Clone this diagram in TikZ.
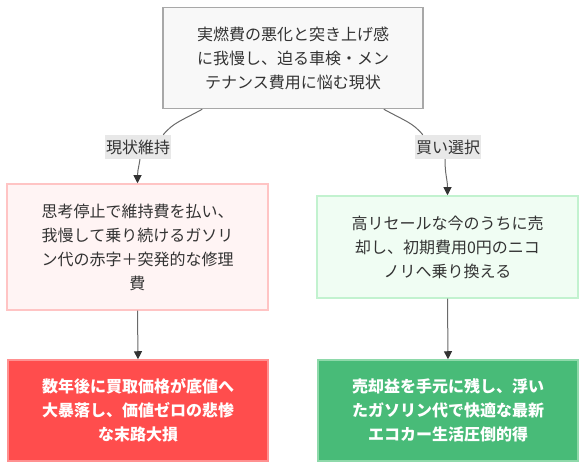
\documentclass[tikz,border=0pt]{standalone}
\usepackage{fontspec}
\setmainfont{Noto Sans CJK JP}
\usetikzlibrary{arrows.meta}
\definecolor{txtgray}{HTML}{333333}
\definecolor{topfill}{HTML}{F8F8F8}
\definecolor{topline}{HTML}{A8A8A8}
\definecolor{lblfill}{HTML}{E8E8E8}
\definecolor{keepfill}{HTML}{FFF4F4}
\definecolor{keepline}{HTML}{FFC4C4}
\definecolor{sellfill}{HTML}{F0FDF3}
\definecolor{sellline}{HTML}{C2F2CF}
\definecolor{badfill}{HTML}{FF4D4D}
\definecolor{badline}{HTML}{FF9090}
\definecolor{goodfill}{HTML}{48BB78}
\definecolor{goodline}{HTML}{8ED9AA}
\definecolor{edgegray}{HTML}{6A6A6A}
\tikzset{
  box/.style={draw, line width=1.5pt, align=center, text=txtgray,
    inner sep=0pt, font=\fontsize{16}{24}\selectfont},
  hot/.style={box, text=white, font=\fontsize{16}{24}\selectfont\bfseries},
  lbl/.style={fill=lblfill, text=txtgray, inner xsep=1pt, inner ysep=0pt,
    minimum height=24pt, font=\fontsize{16}{24}\selectfont},
  edge/.style={draw=edgegray, line width=1pt,
    -{Triangle[length=8pt,width=8pt,color=txtgray,fill=txtgray]}},
  link/.style={draw=edgegray, line width=1pt}
}
\begin{document}
\begin{tikzpicture}[x=1pt, y=1pt]
  \useasboundingbox (0,0) rectangle (586,470);
  % el punto de partida
  \node[box, fill=topfill, draw=topline, minimum width=260pt, minimum height=101pt]
    (now) at (293,412) {実燃費の悪化と突き上げ感\\に我慢し、迫る車検・メン\\テナンス費用に悩む現状};
  % las dos ramas
  \node[lbl] (lblkeep) at (138,323) {現状維持};
  \node[lbl] (lblbuy) at (448,323) {買い選択};
  \node[box, fill=keepfill, draw=keepline, minimum width=261pt, minimum height=126pt]
    (keep) at (137.5,223) {思考停止で維持費を払い、\\我慢して乗り続けるガソリ\\ン代の赤字＋突発的な修理\\費};
  \node[box, fill=sellfill, draw=sellline, minimum width=261pt, minimum height=102pt]
    (sell) at (447.5,223) {高リセールな今のうちに売\\却し、初期費用0円のニコ\\ノリへ乗り換える};
  % los dos finales
  \node[hot, fill=badfill, draw=badline, minimum width=260pt, minimum height=101pt]
    (bad) at (138,59.5) {数年後に買取価格が底値へ\\大暴落し、価値ゼロの悲惨\\な末路大損};
  \node[hot, fill=goodfill, draw=goodline, minimum width=260pt, minimum height=101pt]
    (good) at (448,59.5) {売却益を手元に残し、浮い\\たガソリン代で快適な最新\\エコカー生活圧倒的得};
  % conectores
  \draw[link] ([xshift=40pt]now.south west) .. controls +(-22,-12) and +(10,12) .. ([xshift=-8pt]lblkeep.north east);
  \draw[edge] ([xshift=2pt]lblkeep.south) .. controls +(-2,-12) and +(0,12) .. (keep.north);
  \draw[link] ([xshift=-40pt]now.south east) .. controls +(22,-12) and +(-10,12) .. ([xshift=8pt]lblbuy.north west);
  \draw[edge] ([xshift=-3pt]lblbuy.south) .. controls +(0,-16) and +(0,16) .. (sell.north);
  \draw[edge] (keep.south) -- (bad.north);
  \draw[edge] (sell.south) -- (good.north);
\end{tikzpicture}
\end{document}
